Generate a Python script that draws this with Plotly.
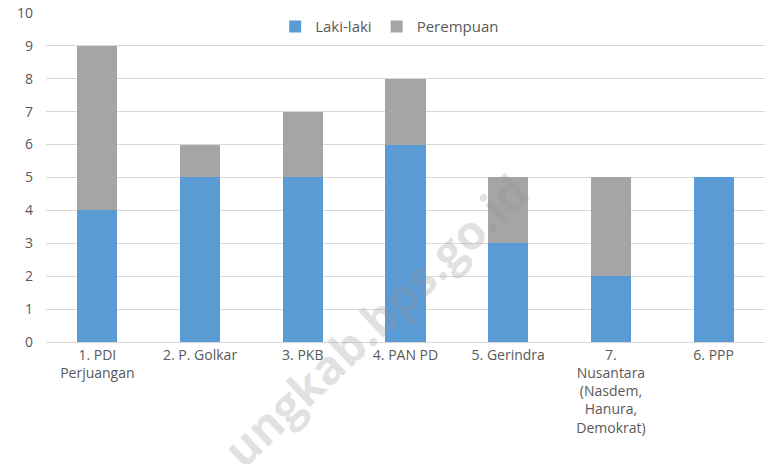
import plotly.graph_objects as go

categories = [
    "1. PDI<br>Perjuangan",
    "2. P. Golkar",
    "3. PKB",
    "4. PAN PD",
    "5. Gerindra",
    "7.<br>Nusantara<br>(Nasdem,<br>Hanura,<br>Demokrat)",
    "6. PPP",
]
laki_laki = [4, 5, 5, 6, 3, 2, 5]
perempuan = [5, 1, 2, 2, 2, 3, 0]
y_ticks = list(range(0, 11))

fig = go.Figure()

fig.add_trace(go.Bar(
    x=categories,
    y=laki_laki,
    name='Laki-laki',
    marker=dict(color='#5B9BD5', line=dict(width=0))
))

fig.add_trace(go.Bar(
    x=categories,
    y=perempuan,
    name='Perempuan',
    marker=dict(color='#A5A5A5', line=dict(width=0))
))

# watermark
fig.add_annotation(
    text="<b>ungkab.bps.go.id</b>",
    x=0.458, y=0.067, xref='paper', yref='paper',
    xanchor='center', yanchor='middle',
    showarrow=False, textangle=-43.5,
    font=dict(family='Open Sans', size=47, color='rgba(150,150,150,0.28)'),
)

fig.update_layout(
    barmode='stack',
    bargap=0.61,
    width=781, height=464,
    margin=dict(l=46, r=16, t=12, b=122, autoexpand=False),
    paper_bgcolor='white',
    plot_bgcolor='white',
    font=dict(family='Open Sans', size=14, color='#595959'),
    legend=dict(
        orientation='h', x=0.478, xanchor='center', y=0.955, yanchor='middle',
        bgcolor='white', font=dict(size=15, color='#595959'),
        traceorder='normal', itemwidth=30,
    ),
    xaxis=dict(
        showgrid=False, showline=True, linecolor='#D9D9D9', linewidth=1,
        ticks='', tickfont=dict(size=14, color='#595959'), automargin=False,
    ),
    yaxis=dict(
        range=[0, 10.03], tickvals=y_ticks, showgrid=True, gridcolor='#D9D9D9',
        gridwidth=1, zeroline=False, ticks='', ticklabelstandoff=12,
        tickfont=dict(size=14, color='#595959'), automargin=False,
    ),
)

# drop the default page margin so the figure sits at the window corner
fig.write_html(
    "out.html",
    config={'displayModeBar': False},
    post_script="document.body.style.margin='0';",
)
